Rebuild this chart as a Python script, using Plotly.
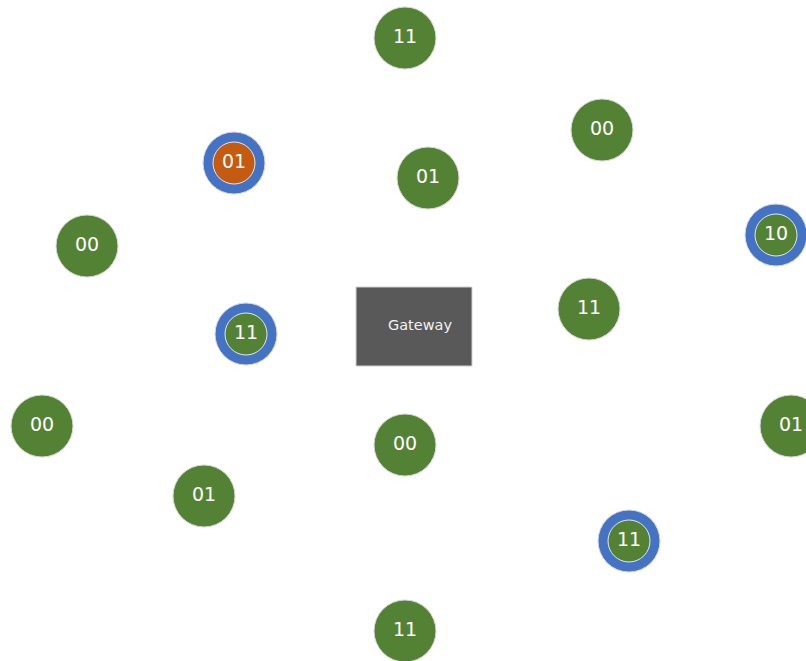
import plotly.graph_objects as go

# Node data (positions in the diagram's own coordinate space)
node_x = [405, 602, 234, 428, 87, 776, 589, 246, 42, 791, 405, 204, 629, 405]
node_y = [38, 130, 163, 178, 246, 235, 309, 334, 426, 426, 445, 496, 541, 631]
node_labels = ["11", "00", "01", "01", "00", "10", "11", "11", "00", "01", "00", "01", "11", "11"]
node_ring = [False, False, True, False, False, True, False, True, False, False, False, False, True, False]
node_fill = ["green", "green", "orange", "green", "green", "green", "green", "green",
             "green", "green", "green", "green", "green", "green"]

gateway_label = "Gateway"
gateway_box = [356, 287, 472, 366]  # x0, y0, x1, y1

GREEN = "#548235"
BLUE = "#4472C4"
ORANGE = "#C55A11"
fill_map = {"green": GREEN, "orange": ORANGE}

fig = go.Figure()

# Plain nodes
px = [x for x, r in zip(node_x, node_ring) if not r]
py = [y for y, r in zip(node_y, node_ring) if not r]
pl = [l for l, r in zip(node_labels, node_ring) if not r]
pc = [fill_map[c] for c, r in zip(node_fill, node_ring) if not r]
fig.add_trace(go.Scatter(
    x=px, y=py, mode="markers+text", text=pl, textposition="middle center",
    marker=dict(size=62, color=pc, line=dict(color="#d9d9d9", width=1)),
    textfont=dict(family="DejaVu Sans", size=19, color="#ffffff"),
    hoverinfo="skip", showlegend=False))

# Ringed nodes: outer blue ring
rx = [x for x, r in zip(node_x, node_ring) if r]
ry = [y for y, r in zip(node_y, node_ring) if r]
rl = [l for l, r in zip(node_labels, node_ring) if r]
rc = [fill_map[c] for c, r in zip(node_fill, node_ring) if r]
fig.add_trace(go.Scatter(
    x=rx, y=ry, mode="markers",
    marker=dict(size=62, color=BLUE, line=dict(color="#d9d9d9", width=1)),
    hoverinfo="skip", showlegend=False))
fig.add_trace(go.Scatter(
    x=rx, y=ry, mode="markers+text", text=rl, textposition="middle center",
    marker=dict(size=42, color=rc, line=dict(color="#e6e6e6", width=1)),
    textfont=dict(family="DejaVu Sans", size=19, color="#ffffff"),
    hoverinfo="skip", showlegend=False))

# Gateway
fig.add_shape(type="rect", x0=gateway_box[0], y0=gateway_box[1], x1=gateway_box[2], y1=gateway_box[3],
              fillcolor="#595959", line=dict(color="#d0d0d0", width=1), layer="below")
fig.add_trace(go.Scatter(
    x=[(gateway_box[0] + gateway_box[2]) / 2 + 6], y=[(gateway_box[1] + gateway_box[3]) / 2],
    mode="text", text=[gateway_label], textposition="middle center",
    textfont=dict(family="DejaVu Sans", size=14.5, color="#f2f2f2"),
    hoverinfo="skip", showlegend=False))

fig.update_layout(
    width=806, height=661,
    margin=dict(l=0, r=0, t=0, b=0),
    paper_bgcolor="white", plot_bgcolor="white",
    hovermode=False,
    xaxis=dict(range=[0, 806], visible=False, fixedrange=True),
    yaxis=dict(range=[661, 0], visible=False, fixedrange=True),
)

fig.write_html(
    "out.html",
    config={"displayModeBar": False, "staticPlot": True},
    post_script="document.body.style.margin='0';document.body.style.overflow='hidden';"
                "document.documentElement.style.overflow='hidden';",
)
